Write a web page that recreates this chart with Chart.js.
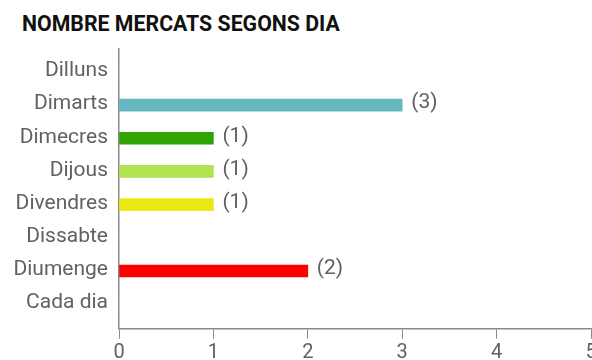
<!DOCTYPE html>
<html>
<head>
<meta charset="utf-8">
<script src="https://cdn.jsdelivr.net/npm/chart.js@4"></script>
<style>
    html, body { margin: 0; padding: 0; background: #fff; overflow: hidden; }
    .wrap { position: relative; width: 600px; height: 360px; }
    .titol {
        position: absolute; left: 22px; top: 11px;
        font-family: Roboto, sans-serif; font-weight: bold; font-size: 21.3px;
        color: #111;
    }
    canvas { position: absolute; left: 0; top: 0; }
</style>
</head>
<body>
<div class="wrap">
    <div class="titol">NOMBRE MERCATS SEGONS DIA</div>
    <canvas id="grafic" width="600" height="360"></canvas>
</div>
<script>
// Dades: mercats per dia de la setmana
const dies = ['Dilluns', 'Dimarts', 'Dimecres', 'Dijous', 'Divendres', 'Dissabte', 'Diumenge', 'Cada dia'];
const mercats = [0, 3, 1, 1, 1, 0, 2, 0];
const colors = ['#cccccc', '#64b9c1', '#2ea400', '#b1e24f', '#ebe814', '#cccccc', '#ff0000', '#cccccc'];
const valorsX = [0, 1, 2, 3, 4, 5];

const grisText = '#616161';
const grisEix = '#8a8a8a';

// Etiquetes "(n)" al final de cada barra
const etiquetesValor = {
    id: 'etiquetesValor',
    afterDatasetsDraw(chart) {
        const ctx = chart.ctx;
        const meta = chart.getDatasetMeta(0);
        ctx.save();
        ctx.font = '21px Roboto, sans-serif';
        ctx.fillStyle = grisText;
        ctx.textAlign = 'left';
        ctx.textBaseline = 'middle';
        meta.data.forEach((bar, i) => {
            if (!mercats[i]) return;
            ctx.fillText('(' + mercats[i] + ')', bar.x + 9, bar.y - 2);
        });
        ctx.restore();
    }
};

// sense marge extra per a les etiquetes dels extrems
function sensePadding(scale) {
    scale.paddingTop = 0;
    scale.paddingBottom = 0;
    scale.paddingLeft = 0;
    scale.paddingRight = 0;
}

const ctx = document.getElementById('grafic').getContext('2d');
new Chart(ctx, {
    type: 'bar',
    data: {
        datasets: [{
            data: mercats.map((v, i) => ({ x: v, y: i })),
            backgroundColor: colors,
            borderWidth: 0,
            barThickness: 12
        }]
    },
    options: {
        indexAxis: 'y',
        responsive: false,
        animation: false,
        layout: { padding: { top: 49, right: 9, left: 0, bottom: 0 } },
        plugins: {
            legend: { display: false },
            tooltip: { enabled: false }
        },
        scales: {
            x: {
                type: 'linear',
                min: 0,
                max: 5,
                offset: false,
                afterBuildTicks: scale => { scale.ticks = valorsX.map(v => ({ value: v })); },
                afterFit: scale => { scale.height = 31.3; sensePadding(scale); },
                grid: { display: true, drawOnChartArea: false, drawTicks: true, tickLength: 10, color: grisEix, offset: false },
                border: { display: true, color: grisEix, width: 1.5 },
                ticks: { color: grisText, font: { family: 'Roboto', size: 20 }, padding: 2, maxRotation: 0 }
            },
            y: {
                type: 'linear',
                reverse: true,
                min: -0.69,
                max: 7.74,
                offset: false,
                afterBuildTicks: scale => { scale.ticks = dies.map((d, i) => ({ value: i })); },
                afterFit: scale => { scale.width = 119; sensePadding(scale); },
                grid: { display: false, drawTicks: false, offset: false },
                border: { display: true, color: grisEix, width: 1.5 },
                ticks: {
                    color: grisText,
                    font: { family: 'Roboto', size: 21 },
                    padding: 11,
                    labelOffset: -1,
                    callback: v => dies[v]
                }
            }
        }
    },
    plugins: [etiquetesValor]
});
</script>
</body>
</html>
